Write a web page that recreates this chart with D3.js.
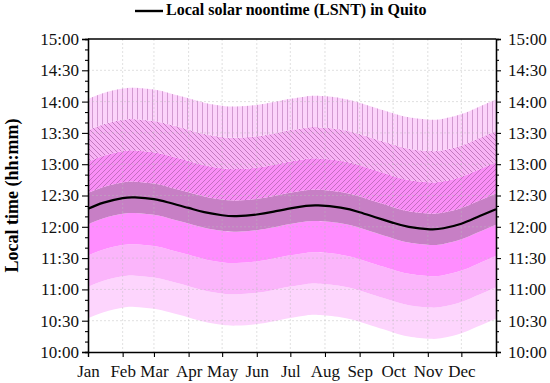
<!DOCTYPE html>
<html>
<head>
<meta charset="utf-8">
<script src="https://cdn.jsdelivr.net/npm/d3@7"></script>
<style>
  body { margin: 0; background: #fff; }
  svg text { font-family: "Liberation Serif", "Times New Roman", serif !important; }
</style>
</head>
<body>
<svg id="chartSVG" width="550" height="383"></svg>
<script>
// month ticks (day of year at start of month)
var monthNames = ["Jan", "Feb", "Mar", "Apr", "May", "Jun", "Jul", "Aug", "Sep", "Oct", "Nov", "Dec"];
var monthDays = [0, 31, 59, 90, 120, 151, 181, 212, 243, 273, 304, 334];

// LSNT in Quito, minutes after 12:00
var sampleDays = [0, 14, 31, 42, 59, 73, 90, 104, 120, 133, 151, 165, 181, 195, 206, 226, 243, 257, 273, 287, 306, 318, 334, 348, 365];
var lsntMinutes = [17.3, 23.2, 27.5, 28.2, 26.5, 23, 18.1, 14, 11.1, 10.3, 11.8, 14.3, 17.7, 20, 20.5, 18.3, 14, 9.2, 3.8, -0.1, -2.4, -1.4, 3, 9.2, 16.9];

// bands around LSNT: [from, to] in minutes
var bandLow = [-105, -75, -45, -15, 15, 45, 75];
var bandHigh = [-75, -45, -15, 15, 45, 75, 105];
var bandFill = ["#fdd5fd", "#fbb5fb", "#ff8dff", "#c77fc5", "#f98ef6", "#f8b3f5", "#fcd3fb"];
var bandHatch = [null, null, null, null, "fwd", "back", "vert"];

// y ticks (minutes since midnight)
var yMajor = [600, 630, 660, 690, 720, 750, 780, 810, 840, 870, 900];

var chart = (function(){
    var _left = 88, _right = 496, _top = 39, _bottom = 352;
    var _font = "'Liberation Serif', 'Times New Roman', serif";

    var x = d3.scaleLinear().domain([0, 365]).range([_left, _right]);
    var y = d3.scaleLinear().domain([600, 900]).range([_bottom, _top]);

    function _fmt(m){
        var h = Math.floor(m / 60), mm = m % 60;
        return h + ":" + (mm < 10 ? "0" : "") + mm;
    }

    function _defs(svg){
        var defs = svg.append("defs");
        var hatchCol = "#a55aa2";
        var p;
        p = defs.append("pattern").attr("id", "vert").attr("patternUnits", "userSpaceOnUse")
            .attr("width", 5).attr("height", 5);
        p.append("line").attr("x1", 2.5).attr("y1", 0).attr("x2", 2.5).attr("y2", 5)
            .attr("stroke", hatchCol).attr("stroke-width", 0.8).attr("stroke-opacity", 0.6);
        p = defs.append("pattern").attr("id", "fwd").attr("patternUnits", "userSpaceOnUse")
            .attr("width", 5).attr("height", 5);
        p.append("path").attr("d", "M-1,1 L1,-1 M0,5 L5,0 M4,6 L6,4")
            .attr("stroke", hatchCol).attr("stroke-width", 0.8).attr("stroke-opacity", 0.8);
        p = defs.append("pattern").attr("id", "back").attr("patternUnits", "userSpaceOnUse")
            .attr("width", 5).attr("height", 5);
        p.append("path").attr("d", "M-1,4 L1,6 M0,0 L5,5 M4,-1 L6,1")
            .attr("stroke", hatchCol).attr("stroke-width", 0.8).attr("stroke-opacity", 0.8);
    }

    function _draw(){
        var svg = d3.select("#chartSVG");
        _defs(svg);

        var pts = sampleDays.map(function(d, i){ return [d, lsntMinutes[i]]; });

        // bands
        bandLow.forEach(function(lo, i){
            var area = d3.area()
                .x(function(d){ return x(d[0]); })
                .y0(function(d){ return y(720 + d[1] + lo); })
                .y1(function(d){ return y(720 + d[1] + bandHigh[i]); })
                .curve(d3.curveNatural);
            svg.append("path").datum(pts)
                .attr("d", area)
                .attr("fill", bandFill[i]);
            if (bandHatch[i]) {
                svg.append("path").datum(pts)
                    .attr("d", area)
                    .attr("fill", "url(#" + bandHatch[i] + ")");
            }
        });

        // grid
        svg.append("g").selectAll("line")
            .data(yMajor.slice(1, -1))
            .enter()
            .append("line")
            .attr("x1", _left).attr("x2", _right)
            .attr("y1", function(d){ return y(d); })
            .attr("y2", function(d){ return y(d); })
            .attr("stroke", "#bbbbbb").attr("stroke-opacity", 0.45)
            .attr("stroke-dasharray", "2,2");
        svg.append("g").selectAll("line")
            .data(monthDays.slice(1))
            .enter()
            .append("line")
            .attr("y1", _top).attr("y2", _bottom)
            .attr("x1", function(d){ return x(d); })
            .attr("x2", function(d){ return x(d); })
            .attr("stroke", "#bbbbbb").attr("stroke-opacity", 0.45)
            .attr("stroke-dasharray", "2,2");

        // LSNT curve
        var line = d3.line()
            .x(function(d){ return x(d[0]); })
            .y(function(d){ return y(720 + d[1]); })
            .curve(d3.curveNatural);
        svg.append("path").datum(pts)
            .attr("d", line)
            .attr("fill", "none")
            .attr("stroke", "black")
            .attr("stroke-width", 2.2);

        // axes
        var yMinor = d3.range(600, 901, 10).filter(function(d){ return d % 30 !== 0; });

        var gl = svg.append("g").attr("transform", "translate(" + _left + ",0)");
        gl.call(d3.axisLeft(y).tickValues(yMajor).tickFormat(_fmt).tickSize(6).tickPadding(3));
        gl.append("g").call(d3.axisLeft(y).tickValues(yMinor).tickFormat("").tickSize(3));

        var gr = svg.append("g").attr("transform", "translate(" + _right + ",0)");
        gr.call(d3.axisRight(y).tickValues(yMajor).tickFormat(_fmt).tickSize(5).tickPadding(7));
        gr.append("g").call(d3.axisRight(y).tickValues(yMinor).tickFormat("").tickSize(3));

        var gb = svg.append("g").attr("transform", "translate(0," + _bottom + ")");
        gb.call(d3.axisBottom(x).tickValues(monthDays)
            .tickFormat(function(d, i){ return monthNames[i]; })
            .tickSize(5).tickPadding(8));

        svg.selectAll("g").attr("font-family", null);
        svg.selectAll(".domain").attr("stroke", "black").attr("stroke-width", 1.3);
        svg.selectAll(".tick line").attr("stroke", "black").attr("stroke-width", 1.1);
        svg.selectAll(".tick text")
            .style("font-family", _font)
            .style("font-size", "17px")
            .attr("fill", "#111");

        // top frame
        svg.append("line")
            .attr("x1", _left).attr("x2", _right)
            .attr("y1", _top).attr("y2", _top)
            .attr("stroke", "black").attr("stroke-width", 1.3);

        // y label
        svg.append("text")
            .attr("transform", "translate(18," + ((_top + _bottom) / 2) + ") rotate(-90)")
            .attr("text-anchor", "middle")
            .style("font-family", _font)
            .attr("font-size", 18)
            .attr("font-weight", "bold")
            .text("Local time (hh:mm)");

        // legend
        svg.append("line")
            .attr("x1", 135).attr("x2", 163)
            .attr("y1", 11).attr("y2", 11)
            .attr("stroke", "black").attr("stroke-width", 2.4);
        svg.append("text")
            .attr("x", 166).attr("y", 15)
            .style("font-family", _font)
            .attr("font-size", 16)
            .attr("font-weight", "bold")
            .text("Local solar noontime (LSNT) in Quito");
    }

    return { draw: _draw };
})();

chart.draw();
</script>
</body>
</html>
